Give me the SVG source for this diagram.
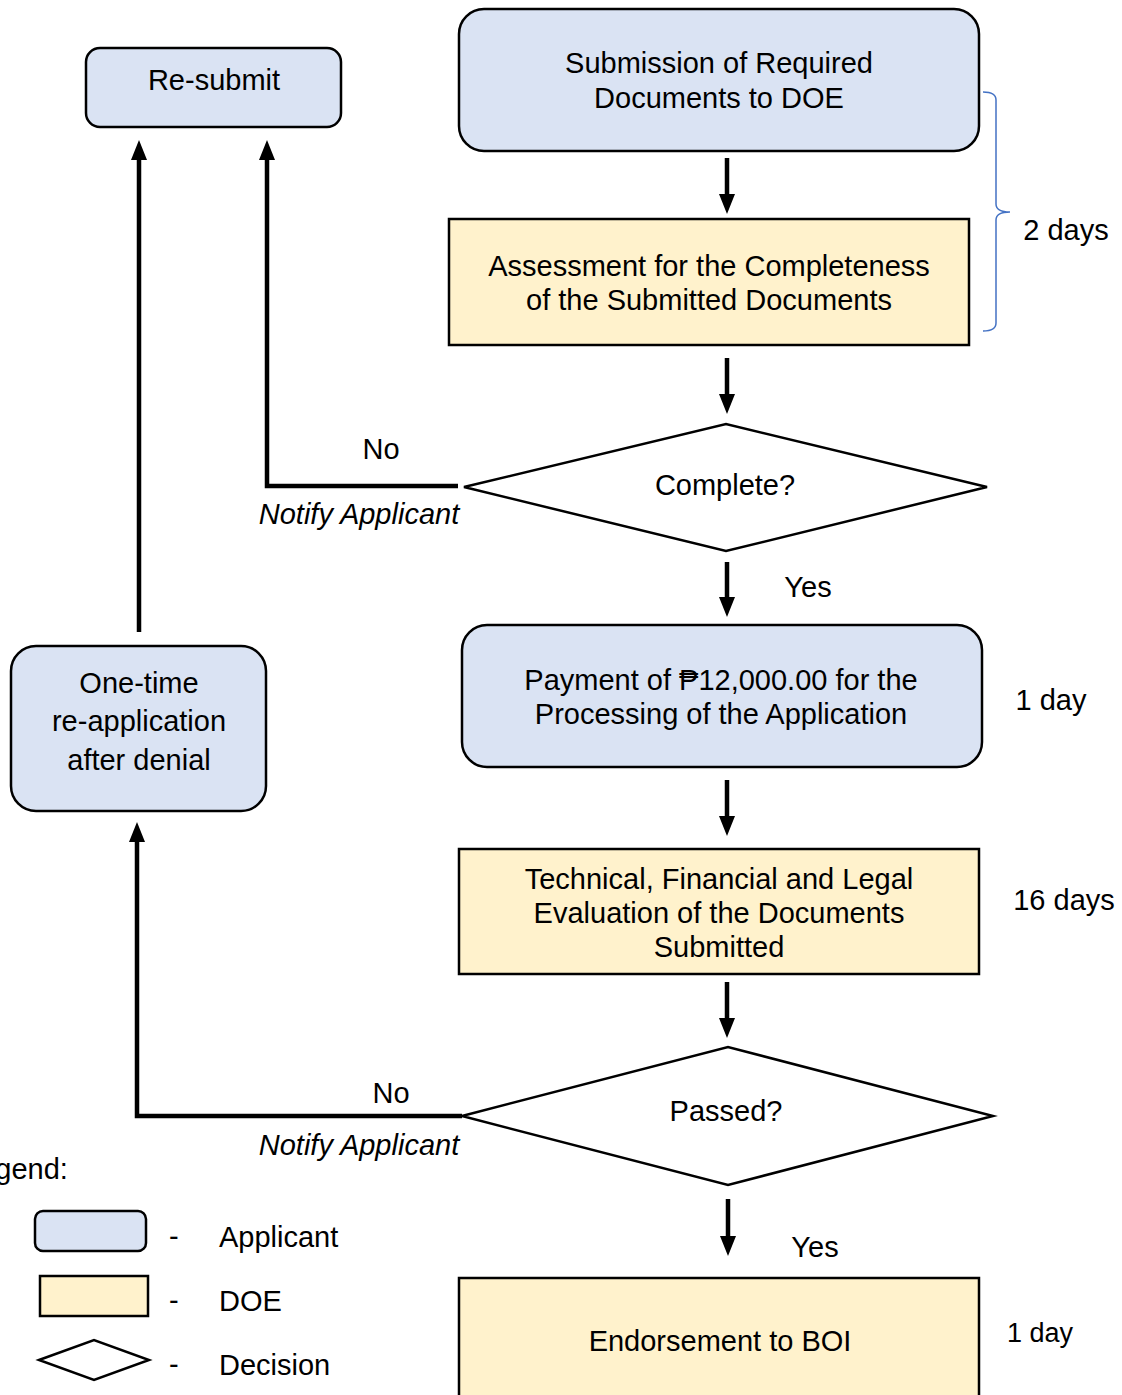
<svg xmlns="http://www.w3.org/2000/svg" width="1122" height="1395" viewBox="0 0 1122 1395">
<style>
text{font-family:"Liberation Sans",Arial,sans-serif;font-size:29px;fill:#000}
.c{text-anchor:middle}
.app{fill:#dae3f3;stroke:#000;stroke-width:2.5}
.doe{fill:#fff2cc;stroke:#000;stroke-width:2.5}
.dec{fill:#fff;stroke:#000;stroke-width:2.5}
.con{fill:none;stroke:#000;stroke-width:4.5}
.it{font-style:italic}
</style>
<defs>
<marker id="ah" markerUnits="userSpaceOnUse" markerWidth="20" markerHeight="20" viewBox="0 0 20 20" refX="4" refY="10" orient="auto">
<path d="M0,2 L20,10 L0,18 Z" fill="#000"/>
</marker>
</defs>
<g id="connectors">
<line class="con" x1="727" y1="158" x2="727" y2="198" marker-end="url(#ah)"/>
<line class="con" x1="727" y1="358" x2="727" y2="398" marker-end="url(#ah)"/>
<line class="con" x1="727" y1="562" x2="727" y2="601" marker-end="url(#ah)"/>
<line class="con" x1="727" y1="780" x2="727" y2="820" marker-end="url(#ah)"/>
<line class="con" x1="727" y1="982" x2="727" y2="1022" marker-end="url(#ah)"/>
<line class="con" x1="728" y1="1199" x2="728" y2="1240" marker-end="url(#ah)"/>
<polyline class="con" points="458,486 267,486 267,156" marker-end="url(#ah)"/>
<polyline class="con" points="462,1116 137,1116 137,838" marker-end="url(#ah)"/>
<line class="con" x1="139" y1="632" x2="139" y2="156" marker-end="url(#ah)"/>
<text class="c" x="381" y="459">No</text>
<text class="c it" x="359" y="524">Notify Applicant</text>
<text class="c" x="808" y="597">Yes</text>
<text class="c" x="391" y="1103">No</text>
<text class="c it" x="359" y="1155">Notify Applicant</text>
<text class="c" x="815" y="1257">Yes</text>
</g>
<g id="submission">
<rect class="app" x="459" y="9" width="520" height="142" rx="25"/>
<text class="c" x="719" y="73">Submission of Required</text>
<text class="c" x="719" y="108">Documents to DOE</text>
</g>
<g id="resubmit">
<rect class="app" x="86" y="48" width="255" height="79" rx="14"/>
<text class="c" x="214" y="90">Re-submit</text>
</g>
<g id="assessment">
<rect class="doe" x="449" y="219" width="520" height="126"/>
<text class="c" x="709" y="276">Assessment for the Completeness</text>
<text class="c" x="709" y="310">of the Submitted Documents</text>
</g>
<g id="bracket">
<path d="M983,92 Q996,92 996,100 L996,204 Q996,212 1010,212 Q996,212 996,220 L996,323 Q996,331 983,331" fill="none" stroke="#4472c4" stroke-width="1.5"/>
<text class="c" x="1066" y="240">2 days</text>
</g>
<g id="complete">
<polygon class="dec" points="464,487 726,424 987,487 726,551"/>
<text class="c" x="725" y="495">Complete?</text>
</g>
<g id="payment">
<rect class="app" x="462" y="625" width="520" height="142" rx="25"/>
<text class="c" x="721" y="690">Payment of ₱12,000.00 for the</text>
<text class="c" x="721" y="724">Processing of the Application</text>
<text class="c" x="1051" y="710">1 day</text>
</g>
<g id="onetime">
<rect class="app" x="11" y="646" width="255" height="165" rx="25"/>
<text class="c" x="139" y="693">One-time</text>
<text class="c" x="139" y="731">re-application</text>
<text class="c" x="139" y="770">after denial</text>
</g>
<g id="technical">
<rect class="doe" x="459" y="849" width="520" height="125"/>
<text class="c" x="719" y="889">Technical, Financial and Legal</text>
<text class="c" x="719" y="923">Evaluation of the Documents</text>
<text class="c" x="719" y="957">Submitted</text>
<text class="c" x="1064" y="910">16 days</text>
</g>
<g id="passed">
<polygon class="dec" points="462,1116 728,1047 993,1116 728,1185"/>
<text class="c" x="726" y="1121">Passed?</text>
</g>
<g id="endorsement">
<rect class="doe" x="459" y="1278" width="520" height="130"/>
<text class="c" x="720" y="1351">Endorsement to BOI</text>
<text class="c" x="1040" y="1342" style="font-size:27px">1 day</text>
</g>
<g id="legend">
<text x="-37" y="1179">Legend:</text>
<rect class="app" x="35" y="1211" width="111" height="40" rx="8"/>
<text x="169" y="1246">-</text>
<text x="219" y="1247">Applicant</text>
<rect class="doe" x="40" y="1276" width="108" height="40"/>
<text x="169" y="1310">-</text>
<text x="219" y="1311">DOE</text>
<polygon class="dec" points="39,1360 94,1340 149,1360 94,1380"/>
<text x="169" y="1374">-</text>
<text x="219" y="1375">Decision</text>
</g>
</svg>
